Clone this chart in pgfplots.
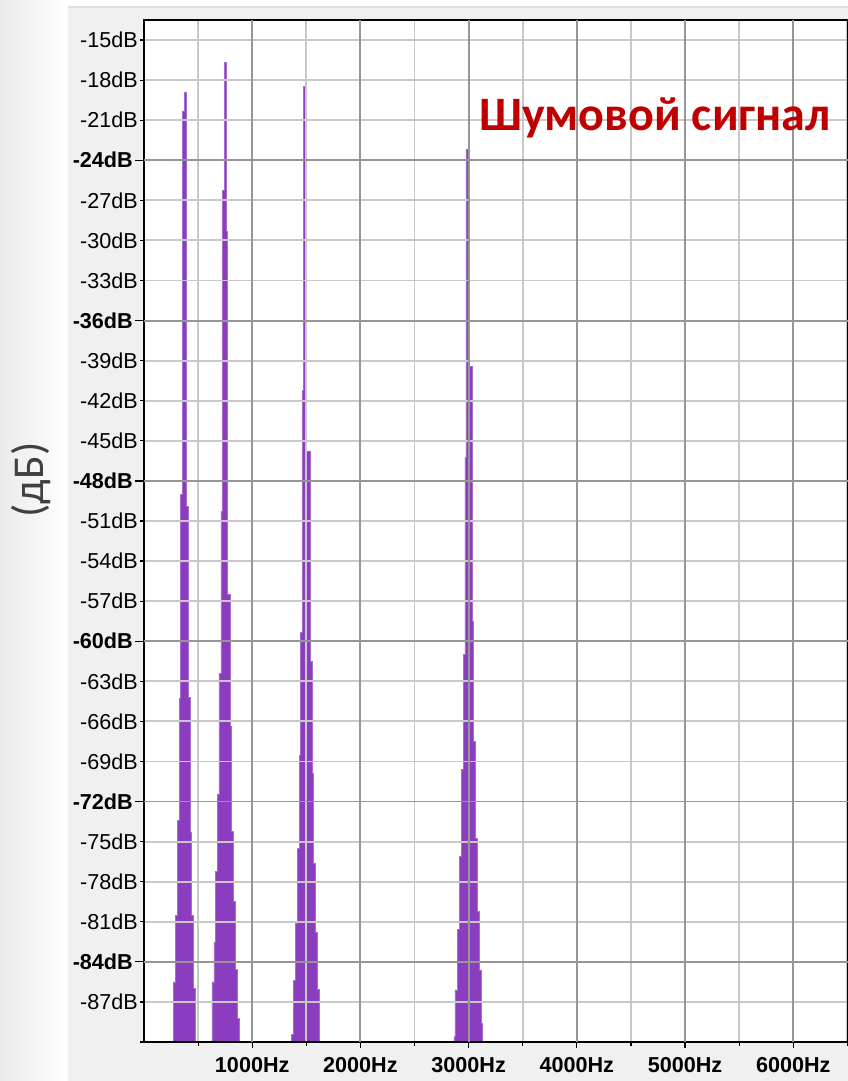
\documentclass[border=0pt]{standalone}
\usepackage{fontspec}
\setmainfont{Liberation Sans}
\newfontfamily\calibri{Carlito}
\usepackage{pgfplots}
\pgfplotsset{compat=1.18}

\definecolor{specpurple}{RGB}{138,61,190}
\definecolor{gridlight}{RGB}{200,200,200}
\definecolor{griddark}{RGB}{150,150,150}
\definecolor{panelgrey}{RGB}{240,240,240}
\definecolor{titlered}{RGB}{192,0,0}

\newcommand{\lbl}{\fontsize{21.6bp}{26bp}\selectfont}

\begin{document}
\begin{tikzpicture}
\useasboundingbox (0,0) rectangle (848bp,1081bp);
% slide background and the grey panel of the spectrum window
\shade[left color=black!8, right color=white] (0,0) rectangle (68.3bp,1081bp);
\fill[white] (68.3bp,1074bp) rectangle (848bp,1081bp);
\fill[panelgrey] (68.3bp,0) rectangle (848bp,1074bp);
\draw[black!12, line width=1.5bp] (68.3bp,1074bp) -- (848bp,1074bp);
\node[rotate=90, text=black!75, font=\calibri\fontsize{44bp}{50bp}\selectfont] at (31bp,601bp) {(дБ)};

\begin{axis}[
    at={(144bp,39bp)}, anchor=south west,
    scale only axis, width=704bp, height=1022bp,
    xmin=0, xmax=6506, ymin=-90, ymax=-13.5,
    axis background/.style={fill=white},
    axis on top,
    axis line style={black, line width=1.5bp},
    tick pos=left, tick align=outside,
    major tick length=4bp,
    tick style={black, line width=1.2bp},
    grid=major,
    major grid style={gridlight, line width=1.9bp},
    % x: light lines every 500 Hz, dark labelled ones every 1000 Hz
    xtick={500,1500,2500,3500,4500,5500,6500},
    xticklabels={,,,,,,,},
    extra x ticks={1000,2000,3000,4000,5000,6000},
    extra x tick labels={1000Hz,2000Hz,3000Hz,4000Hz,5000Hz,6000Hz},
    extra x tick style={grid=major, major tick length=6bp,
        major grid style={griddark, line width=1.9bp}},
    xticklabel style={font=\bfseries\lbl, inner sep=0pt, anchor=north, yshift=-9bp},
    % y: every 3 dB, bold ones every 12 dB
    ytick={-90,-87,-81,-78,-75,-69,-66,-63,-57,-54,-51,-45,-42,-39,-33,-30,-27,-21,-18,-15},
    yticklabels={,-87dB,-81dB,-78dB,-75dB,-69dB,-66dB,-63dB,-57dB,-54dB,-51dB,-45dB,-42dB,-39dB,-33dB,-30dB,-27dB,-21dB,-18dB,-15dB},
    extra y ticks={-84,-72,-60,-48,-36,-24},
    extra y tick labels={\textbf{-84dB},\textbf{-72dB},\textbf{-60dB},\textbf{-48dB},\textbf{-36dB},\textbf{-24dB}},
    extra y tick style={grid=major, major tick length=9bp,
        major grid style={griddark, line width=1.9bp}},
    yticklabel style={font=\lbl, inner sep=0pt, anchor=east, xshift=-2bp},
]
% 375 Hz
\addplot[const plot, fill=specpurple, draw=specpurple!75!white, line width=0.6bp] coordinates {
(269.9,-90) (269.9,-85.5) (292.0,-80.5) (306.8,-73.4) (325.3,-64.3) (338.3,-49.0)
(353.0,-20.3) (372.0,-18.9) (393.0,-49.9) (408.5,-64.2) (424.2,-74.3) (439.9,-80.5)
(454.7,-86.0) (470.4,-86.0) (470.4,-90)} -- cycle;
% 750 Hz
\addplot[const plot, fill=specpurple, draw=specpurple!75!white, line width=0.6bp] coordinates {
(627.5,-90) (627.5,-85.5) (646.0,-82.5) (661.7,-77.25) (676.5,-71.45) (692.2,-62.4)
(710.7,-50.3) (726.4,-26.25) (740.0,-16.7) (760.5,-29.3) (772.0,-56.5) (793.9,-66.4)
(809.6,-74.25) (824.4,-79.5) (842.9,-84.55) (861.4,-88.25) (877.1,-88.25) (877.1,-90)} -- cycle;
% 1500 Hz
\addplot[const plot, fill=specpurple, draw=specpurple!75!white, line width=0.6bp] coordinates {
(1364.1,-90) (1364.1,-89.45) (1378.9,-85.4) (1401.1,-81.1) (1415.9,-75.5) (1434.4,-68.55)
(1447.3,-59.3) (1462.0,-41.25) (1473.0,-18.45) (1494.0,-45.75) (1533.3,-61.5) (1551.7,-69.9)
(1563.7,-76.6) (1582.2,-81.8) (1600.7,-86.05) (1619.2,-86.05) (1619.2,-90)} -- cycle;
% 3000 Hz
\addplot[const plot, fill=specpurple, draw=specpurple!75!white, line width=0.6bp] coordinates {
(2864.1,-90) (2864.1,-89.6) (2873.3,-86.1) (2898.3,-81.55) (2913.1,-76.1) (2935.2,-69.6)
(2950.0,-61.0) (2965.8,-46.25) (2975.0,-23.2) (3005.5,-39.45) (3030.5,-58.5) (3042.5,-67.5)
(3064.7,-74.75) (3083.1,-80.25) (3097.9,-84.6) (3113.6,-88.6) (3129.3,-88.6) (3129.3,-90)} -- cycle;
\end{axis}

\node[anchor=base, text=titlered, font=\calibri\bfseries\fontsize{48bp}{56bp}\selectfont] at (655bp,950bp) {Шумовой сигнал};
\end{tikzpicture}
\end{document}
